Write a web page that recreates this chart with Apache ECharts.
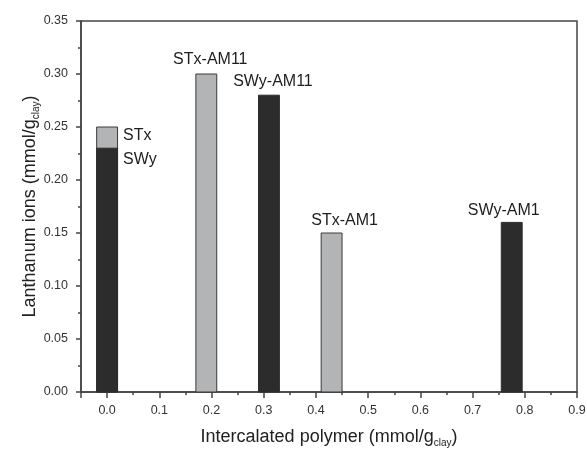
<!DOCTYPE html>
<html>
<head>
  <meta charset="UTF-8">
  <title>Lanthanum ions vs intercalated polymer</title>
  <script src="https://cdn.jsdelivr.net/npm/echarts@6/dist/echarts.min.js"></script>
  <style>
    html, body { margin: 0; padding: 0; background: #fff; }
  </style>
</head>
<body>
  <div id="main" style="width: 587px; height: 450px;"></div>
  <script>
    // sample names, intercalated polymer (x), lanthanum ions (y), clay type
    const names = ['STx', 'SWy', 'STx-AM11', 'SWy-AM11', 'STx-AM1', 'SWy-AM1'];
    const polymer = [0.0, 0.0, 0.19, 0.31, 0.43, 0.775];
    const lanthanum = [0.25, 0.23, 0.30, 0.28, 0.15, 0.16];
    const clay = ['STx', 'SWy', 'STx', 'SWy', 'STx', 'SWy'];
    const barWidth = 0.04; // in x-axis units

    const fills = { STx: '#b3b4b6', SWy: '#2c2c2c' };
    // where each label sits relative to the top of its bar (px)
    const labelPlace = {
      'STx': { dx: 16, dy: 9, align: 'left' },
      'SWy': { dx: 16, dy: 11, align: 'left' },
      'STx-AM11': { dx: 4, dy: -14, align: 'center' },
      'SWy-AM11': { dx: 4, dy: -13.5, align: 'center' },
      'STx-AM1': { dx: 13, dy: -12, align: 'center' },
      'SWy-AM1': { dx: -8, dy: -11.5, align: 'center' }
    };

    const data = names.map((n, i) => [polymer[i], lanthanum[i], i]);

    const chart = echarts.init(document.getElementById('main'));
    const font = '"Liberation Sans", Arial, sans-serif';
    const axisColor = '#444';

    const nameStyle = {
      fontFamily: font, fontSize: 18, color: '#222',
      rich: { sub: { fontFamily: font, fontSize: 10, color: '#222', padding: [11, 0, 0, 0] } }
    };

    chart.setOption({
      animation: false,
      grid: {
        left: 81, right: 10, top: 21, bottom: 58,
        containLabel: false, outerBoundsMode: 'none',
        show: true, borderColor: axisColor, borderWidth: 1.5
      },
      xAxis: {
        type: 'value', min: -0.05, max: 0.9, splitNumber: 10,
        name: 'Intercalated polymer (mmol/g{sub|clay})',
        nameLocation: 'middle', nameGap: 35, nameMoveOverlap: false,
        nameTextStyle: nameStyle,
        axisLine: { onZero: false, lineStyle: { color: axisColor, width: 1.5 } },
        axisTick: { show: true, length: 6, lineStyle: { color: axisColor, width: 1.5 } },
        minorTick: { show: true, splitNumber: 2, length: 3, lineStyle: { color: axisColor, width: 1.5 } },
        axisLabel: {
          fontFamily: font, fontSize: 12.5, color: '#333', margin: 12,
          showMinLabel: false,
          formatter: v => (v < -1e-9 ? '' : v.toFixed(1))
        },
        splitLine: { show: false }
      },
      yAxis: {
        type: 'value', min: 0, max: 0.35, interval: 0.05,
        name: 'Lanthanum ions (mmol/g{sub|clay})',
        nameLocation: 'middle', nameGap: 40, nameMoveOverlap: false,
        nameTextStyle: nameStyle,
        axisLine: { show: true, onZero: false, lineStyle: { color: axisColor, width: 1.5 } },
        axisTick: { show: true, length: 5, lineStyle: { color: axisColor, width: 1.5 } },
        minorTick: { show: true, splitNumber: 2, length: 3, lineStyle: { color: axisColor, width: 1.5 } },
        axisLabel: {
          fontFamily: font, fontSize: 12.5, color: '#333', margin: 13,
          formatter: v => v.toFixed(2)
        },
        splitLine: { show: false }
      },
      series: [{
        type: 'custom',
        data: data,
        encode: { x: 0, y: 1 },
        renderItem: function (params, api) {
          const x = api.value(0), y = api.value(1), i = api.value(2);
          const tl = api.coord([x - barWidth / 2, y]);
          const br = api.coord([x + barWidth / 2, 0]);
          const top = api.coord([x, y]);
          const p = labelPlace[names[i]];
          const isSTx = clay[i] === 'STx';
          return {
            type: 'group',
            children: [{
              type: 'rect',
              shape: { x: tl[0], y: tl[1], width: br[0] - tl[0], height: br[1] - tl[1] },
              style: { fill: fills[clay[i]], stroke: isSTx ? '#3a3a3a' : fills[clay[i]], lineWidth: 1 }
            }, {
              type: 'text',
              x: top[0] + p.dx,
              y: top[1] + p.dy,
              style: {
                text: names[i], fill: '#1e1e1e', font: '16px ' + font,
                align: p.align, verticalAlign: 'middle'
              }
            }]
          };
        }
      }]
    });
  </script>
</body>
</html>
